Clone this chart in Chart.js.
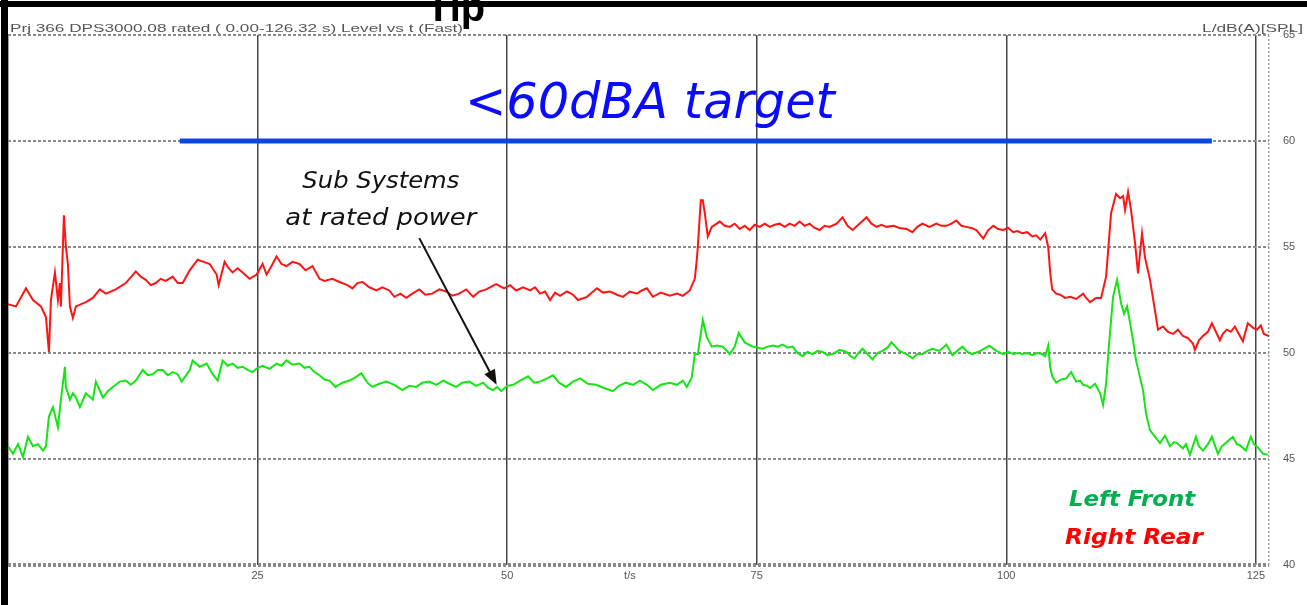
<!DOCTYPE html>
<html>
<head>
<meta charset="utf-8">
<script src="https://cdn.jsdelivr.net/npm/chart.js@4.4.1/dist/chart.umd.min.js"></script>
<style>
  html, body { margin: 0; padding: 0; background: #fff; }
  #wrap { width: 1307px; height: 605px; position: relative; }
</style>
</head>
<body>
<div id="wrap"><canvas id="grafico"></canvas></div>
<script>
// ── Dados ───────────────────────────────────
const tMax = 126.32;
const xTicks = [25, 50, 75, 100, 125];
const yTicks = [40, 45, 50, 55, 60, 65];

// Right Rear (vermelho)
const redTime = [
  0, 0.8, 1.8, 2.5, 3.3, 3.8, 4.1, 4.3, 4.7, 5.0,
  5.2, 5.3, 5.6, 5.8, 6.0, 6.2, 6.5, 6.8, 7.8, 8.5,
  9.2, 9.8, 10.8, 11.8, 12.8, 13.3, 13.8, 14.3, 14.8, 15.3,
  15.8, 16.5, 17.0, 17.5, 18.2, 19.0, 19.6, 20.2, 20.9, 21.1,
  21.7, 22.1, 22.5, 23.0, 23.5, 24.2, 24.9, 25.5, 25.9, 26.4,
  26.9, 27.4, 27.9, 28.5, 29.2, 29.8, 30.5, 31.2, 31.7, 32.5,
  33.2, 34.0, 34.5, 35.0, 35.5, 36.2, 36.9, 37.5, 38.2, 38.7,
  39.3, 39.9, 40.5, 41.2, 41.8, 42.5, 43.2, 43.9, 44.5, 45.2,
  45.9, 46.6, 47.2, 47.9, 48.9, 49.7, 50.3, 50.9, 51.6, 52.3,
  52.8, 53.3, 53.8, 54.3, 54.8, 55.3, 56.0, 56.6, 57.1, 58.0,
  58.5, 59.0, 59.6, 60.3, 61.0, 61.6, 62.3, 63.0, 63.5, 64.0,
  64.6, 65.4, 66.3, 67.0, 67.6, 68.3, 68.8, 69.0, 69.1, 69.4,
  69.6, 69.8, 70.1, 70.5, 71.3, 71.8, 72.3, 72.8, 73.3, 73.8,
  74.3, 74.8, 75.3, 75.8, 76.3, 76.8, 77.3, 77.8, 78.3, 78.8,
  79.3, 79.8, 80.3, 80.8, 81.3, 81.8, 82.3, 83.0, 83.6, 84.1,
  84.6, 85.3, 86.0, 86.5, 87.0, 87.5, 88.0, 88.7, 89.3, 90.0,
  90.6, 91.1, 91.6, 92.3, 93.0, 93.5, 94.0, 94.5, 95.0, 95.5,
  96.0, 96.5, 97.0, 97.7, 98.2, 98.7, 99.2, 99.7, 100.2, 100.7,
  101.1, 101.6, 102.1, 102.6, 103.0, 103.4, 103.9, 104.2, 104.4, 104.6,
  105.0, 105.4, 105.9, 106.4, 107.0, 107.7, 108.0, 108.4, 109.0, 109.5,
  110.0, 110.5, 111.0, 111.4, 111.7, 111.9, 112.2, 112.5, 112.9, 113.2,
  113.6, 113.9, 114.4, 114.9, 115.2, 115.7, 116.2, 116.7, 117.2, 117.7,
  118.2, 118.7, 118.9, 119.3, 119.7, 120.2, 120.6, 121.0, 121.4, 121.7,
  122.1, 122.5, 122.9, 123.3, 123.7, 124.2, 124.7, 125.1, 125.5, 125.8,
  126.3
];
const redLevel = [
  52.3, 52.2, 53.05, 52.5, 52.2, 51.7, 50.05, 52.5, 53.8, 52.5,
  53.3, 52.2, 56.5, 55.0, 54.2, 52.2, 51.65, 52.2, 52.4, 52.6,
  53.0, 52.8, 53.0, 53.3, 53.85, 53.6, 53.45, 53.2, 53.3, 53.5,
  53.4, 53.6, 53.3, 53.3, 53.9, 54.4, 54.3, 54.2, 53.7, 53.2,
  54.3, 54.0, 53.8, 54.0, 53.8, 53.5, 53.7, 54.2, 53.7, 54.1,
  54.55, 54.2, 54.1, 54.3, 54.2, 53.9, 54.1, 53.5, 53.4, 53.5,
  53.35, 53.2, 53.05, 53.3, 53.35, 53.1, 52.95, 53.1, 52.95, 52.65,
  52.8, 52.6, 52.8, 53.0, 52.75, 52.8, 53.0, 52.9, 52.7, 52.8,
  53.0, 52.65, 52.9, 53.0, 53.25, 53.05, 53.2, 52.95, 53.1, 52.95,
  53.1, 52.8, 52.9, 52.5, 52.85, 52.7, 52.9, 52.75, 52.5, 52.65,
  52.85, 53.05, 52.85, 52.9, 52.75, 52.65, 52.9, 52.8, 52.95, 53.05,
  52.65, 52.85, 52.7, 52.8, 52.7, 52.95, 53.5, 54.4, 55.0, 57.2,
  57.2, 56.6, 55.5, 55.95, 56.2, 56.0, 55.95, 56.1, 55.85, 56.0,
  55.8, 56.05, 55.95, 56.1, 55.95, 56.05, 56.1, 55.95, 56.1, 56.0,
  56.2, 56.0, 56.1, 55.9, 55.8, 56.0, 55.95, 56.1, 56.4, 56.0,
  55.8, 56.1, 56.4, 56.1, 55.95, 56.05, 55.95, 56.0, 55.9, 55.85,
  55.7, 55.95, 56.1, 55.95, 56.1, 56.0, 56.0, 56.1, 56.25, 56.0,
  55.95, 55.9, 55.8, 55.4, 55.8, 56.0, 55.85, 55.8, 55.9, 55.7,
  55.75, 55.65, 55.7, 55.5, 55.55, 55.35, 55.65, 55.0, 53.8, 53.0,
  52.8, 52.75, 52.6, 52.65, 52.55, 52.8, 52.6, 52.4, 52.6, 52.6,
  53.6, 56.6, 57.5, 57.3, 57.4, 56.75, 57.6, 56.75, 55.2, 53.75,
  55.65, 54.5, 53.45, 52.0, 51.1, 51.25, 51.0, 50.9, 51.1, 50.8,
  50.7, 50.45, 50.15, 50.6, 50.8, 51.0, 51.4, 51.0, 50.6, 50.9,
  51.1, 51.0, 51.25, 50.9, 50.55, 51.4, 51.2, 51.1, 51.3, 50.9,
  50.8
];

// Left Front (verde)
const greenTime = [
  0, 0.5, 1.0, 1.5, 2.0, 2.5, 3.0, 3.5, 3.8, 4.1,
  4.5, 5.0, 5.3, 5.7, 5.8, 6.2, 6.5, 6.8, 7.2, 7.8,
  8.5, 8.8, 9.5, 10.0, 10.5, 11.2, 11.8, 12.3, 12.8, 13.5,
  14.0, 14.5, 15.0, 15.5, 16.0, 16.5, 17.0, 17.4, 18.2, 18.5,
  19.2, 19.9, 20.5, 21.0, 21.5, 22.0, 22.5, 23.0, 23.5, 24.0,
  24.5, 25.0, 25.5, 26.2, 26.9, 27.4, 27.9, 28.5, 29.2, 29.7,
  30.2, 30.7, 31.2, 31.7, 32.2, 32.8, 33.5, 34.2, 34.8, 35.4,
  36.0, 36.5, 37.2, 37.9, 38.7, 39.5, 40.2, 40.9, 41.5, 42.2,
  42.9, 43.6, 44.2, 44.9, 45.5, 46.2, 46.9, 47.6, 48.1, 48.6,
  49.0, 49.4, 50.0, 50.6, 51.3, 52.1, 52.7, 53.3, 54.0, 54.6,
  55.2, 55.9, 56.6, 57.3, 58.1, 58.9, 59.7, 60.6, 61.2, 61.9,
  62.6, 63.3, 64.0, 64.6, 65.4, 66.3, 67.0, 67.6, 68.0, 68.5,
  68.8, 69.1, 69.6, 70.0, 70.5, 71.0, 71.6, 72.3, 72.8, 73.2,
  73.8, 74.2, 74.6, 75.1, 75.6, 76.1, 76.6, 77.1, 77.6, 78.1,
  78.6, 79.1, 79.6, 80.1, 80.6, 81.1, 81.6, 82.1, 82.6, 83.3,
  84.0, 84.4, 84.8, 85.2, 85.6, 86.1, 86.6, 87.1, 87.6, 88.1,
  88.5, 88.9, 89.3, 90.0, 90.6, 91.1, 91.6, 92.1, 92.6, 93.3,
  94.0, 94.6, 95.1, 95.6, 96.1, 96.6, 97.4, 98.3, 99.0, 99.7,
  100.2, 100.7, 101.2, 101.6, 102.1, 102.6, 103.1, 103.6, 103.9, 104.2,
  104.4, 104.6, 105.0, 105.5, 106.0, 106.5, 107.0, 107.4, 107.7, 108.1,
  108.4, 108.9, 109.4, 109.7, 110.0, 110.3, 110.7, 111.1, 111.5, 111.8,
  112.1, 112.3, 112.7, 113.0, 113.3, 113.7, 114.0, 114.4, 114.9, 115.4,
  115.9, 116.4, 116.8, 117.1, 117.7, 118.0, 118.4, 119.0, 119.3, 119.7,
  120.2, 120.6, 121.2, 121.6, 122.1, 122.7, 123.1, 123.4, 124.0, 124.5,
  124.8, 125.2, 125.7, 126.2
];
const greenLevel = [
  45.6, 45.25, 45.7, 45.1, 46.05, 45.6, 45.7, 45.4, 45.6, 47.0,
  47.45, 46.5, 47.8, 49.35, 48.4, 47.8, 48.1, 47.9, 47.45, 48.1,
  47.8, 48.65, 47.9, 48.2, 48.4, 48.65, 48.7, 48.5, 48.7, 49.2,
  48.95, 49.0, 49.2, 49.2, 48.95, 49.1, 49.0, 48.65, 49.2, 49.65,
  49.35, 49.5, 49.0, 48.7, 49.65, 49.4, 49.5, 49.3, 49.35, 49.2,
  49.1, 49.3, 49.4, 49.25, 49.5, 49.4, 49.65, 49.45, 49.5, 49.3,
  49.35, 49.1, 48.95, 48.75, 48.7, 48.4, 48.6, 48.7, 48.85, 49.05,
  48.6, 48.4, 48.55, 48.65, 48.5, 48.25, 48.45, 48.4, 48.6, 48.65,
  48.5, 48.7, 48.55, 48.4, 48.6, 48.65, 48.45, 48.6, 48.35, 48.25,
  48.4, 48.2, 48.45, 48.5, 48.7, 48.9, 48.6, 48.65, 48.8, 48.95,
  48.6, 48.4, 48.65, 48.8, 48.55, 48.5, 48.35, 48.2, 48.45, 48.6,
  48.5, 48.7, 48.5, 48.25, 48.5, 48.6, 48.5, 48.7, 48.4, 48.85,
  49.95, 49.95, 51.55, 50.75, 50.3, 50.35, 50.3, 49.95, 50.3, 50.95,
  50.5, 50.4, 50.3, 50.25, 50.2, 50.3, 50.35, 50.3, 50.4, 50.25,
  50.3, 50.0, 49.85, 50.05, 49.95, 50.1, 50.05, 49.9, 49.95, 50.15,
  50.05, 49.85, 49.75, 50.0, 50.2, 49.95, 49.7, 50.0, 50.1, 50.25,
  50.5, 50.3, 50.1, 49.95, 49.75, 49.95, 49.95, 50.1, 50.2, 50.1,
  50.4, 49.9, 50.1, 50.3, 50.05, 49.95, 50.1, 50.35, 50.1, 49.95,
  50.05, 49.95, 50.0, 49.95, 50.0, 49.9, 50.0, 49.95, 49.85, 50.35,
  49.35, 48.9, 48.6, 48.75, 48.8, 49.1, 48.65, 48.7, 48.5, 48.45,
  48.35, 48.55, 48.1, 47.55, 48.55, 50.45, 52.65, 53.45, 52.35, 51.85,
  52.2, 51.7, 50.6, 49.65, 49.05, 48.25, 47.15, 46.35, 46.05, 45.75,
  46.1, 45.6, 45.8, 45.75, 45.5, 45.7, 45.2, 46.05, 45.6, 45.4,
  45.7, 46.05, 45.25, 45.6, 45.8, 46.05, 45.7, 45.65, 45.4, 46.05,
  45.7, 45.55, 45.25, 45.2
];

// linha azul da meta
const targetFrom = 17.2;
const targetTo = 120.6;
const targetLevel = 60;

const toPoints = (ts, vs) => ts.map((t, i) => ({ x: t, y: vs[i] }));

// ── Textos sobre o gráfico ──────────────────
function drawFit(ctx, text, left, base, width, font, color) {
  ctx.save();
  ctx.font = font;
  ctx.fillStyle = color;
  ctx.textAlign = 'left';
  ctx.textBaseline = 'alphabetic';
  const w = ctx.measureText(text).width;
  ctx.translate(left, base);
  ctx.scale(width / w, 1);
  ctx.fillText(text, 0, 0);
  ctx.restore();
}

const overlay = {
  id: 'overlay',
  afterDraw(chart) {
    const { ctx } = chart;
    const x = chart.scales.x, y = chart.scales.y;
    const px = v => x.getPixelForValue(v);
    const py = v => y.getPixelForValue(v);

    // cabeçalho
    drawFit(ctx, 'Prj 366 DPS3000.08 rated ( 0.00-126.32 s) Level vs t (Fast)', 10, 32, 453, '11px "Liberation Sans"', '#555');
    drawFit(ctx, 'L/dB(A)[SPL]', 1202, 32, 101, '11px "Liberation Sans"', '#555');

    // texto cortado no topo
    ctx.save();
    ctx.font = 'bold 40px "Liberation Sans"';
    ctx.fillStyle = '#000';
    ctx.fillText('Tip', 426, 21);
    ctx.restore();

    // título azul
    drawFit(ctx, '<60dBA target', px(64.3) - 185, py(61.08), 370, 'italic 50px "DejaVu Sans"', '#0a0aff');

    // anotação
    drawFit(ctx, 'Sub Systems', px(37.3) - 78, py(57.8), 157, 'italic 23px "DejaVu Sans"', '#111');
    drawFit(ctx, 'at rated power', px(37.3) - 95, py(56.04), 191, 'italic 23px "DejaVu Sans"', '#111');

    const x1 = px(41.2), y1 = py(55.42), x2 = px(48.95), y2 = py(48.5);
    const ang = Math.atan2(y2 - y1, x2 - x1);
    ctx.save();
    ctx.strokeStyle = '#111';
    ctx.fillStyle = '#111';
    ctx.lineWidth = 2;
    ctx.beginPath();
    ctx.moveTo(x1, y1);
    ctx.lineTo(x2 - 10 * Math.cos(ang), y2 - 10 * Math.sin(ang));
    ctx.stroke();
    ctx.beginPath();
    ctx.moveTo(x2, y2);
    ctx.lineTo(x2 - 15 * Math.cos(ang) + 6 * Math.sin(ang), y2 - 15 * Math.sin(ang) - 6 * Math.cos(ang));
    ctx.lineTo(x2 - 15 * Math.cos(ang) - 6 * Math.sin(ang), y2 - 15 * Math.sin(ang) + 6 * Math.cos(ang));
    ctx.closePath();
    ctx.fill();
    ctx.restore();

    // legenda
    drawFit(ctx, 'Left Front', px(112.6) - 63, py(42.8), 126, 'italic bold 22px "DejaVu Sans"', '#00b050');
    drawFit(ctx, 'Right Rear', px(112.8) - 69, py(41.0), 138, 'italic bold 22px "DejaVu Sans"', '#ff0000');

    // rótulo do eixo x
    ctx.save();
    ctx.font = '11px "Liberation Sans"';
    ctx.fillStyle = '#555';
    ctx.textAlign = 'center';
    ctx.textBaseline = 'top';
    ctx.fillText('t/s', px(62.3), chart.chartArea.bottom + 5);
    ctx.restore();

    // moldura preta
    ctx.save();
    ctx.fillStyle = '#000';
    ctx.fillRect(0, 1, chart.width, 6);
    ctx.fillRect(1, 0, 7, chart.height);
    ctx.restore();
  }
};

new Chart(document.getElementById('grafico').getContext('2d'), {
  type: 'line',
  data: {
    datasets: [
      {
        label: 'Right Rear',
        data: toPoints(redTime, redLevel),
        borderColor: '#ff1414',
        borderWidth: 2,
        pointRadius: 0,
        tension: 0
      },
      {
        label: 'Left Front',
        data: toPoints(greenTime, greenLevel),
        borderColor: '#14e614',
        borderWidth: 2,
        pointRadius: 0,
        tension: 0
      },
      {
        label: 'target',
        data: [{ x: targetFrom, y: targetLevel }, { x: targetTo, y: targetLevel }],
        borderColor: '#0a46e0',
        borderWidth: 5,
        pointRadius: 0
      }
    ]
  },
  options: {
    responsive: true,
    maintainAspectRatio: false,
    animation: false,
    layout: { padding: { left: 8, top: 35, right: 0, bottom: 0 } },
    plugins: { legend: { display: false }, tooltip: { enabled: false }, title: { display: false } },
    scales: {
      x: {
        type: 'linear',
        min: 0,
        max: tMax,
        afterBuildTicks: s => { s.ticks = [0, ...xTicks, tMax].map(v => ({ value: v })); },
        afterFit: s => { s.height = 40; },
        border: {
          display: false,
          dash: c => (c.tick && c.tick.value > 126) ? [2, 2] : []
        },
        grid: {
          drawTicks: false,
          color: c => (c.tick && c.tick.value > 126) ? '#999' : '#444',
          lineWidth: 1.5
        },
        ticks: {
          autoSkip: false,
          maxRotation: 0,
          padding: 4,
          color: '#555',
          font: { size: 11, family: 'Liberation Sans' },
          callback: v => xTicks.includes(v) ? String(v) : ''
        }
      },
      y: {
        position: 'right',
        min: 40,
        max: 65,
        afterBuildTicks: s => { s.ticks = yTicks.map(v => ({ value: v })); },
        afterFit: s => { s.width = 38; },
        border: { display: false, dash: [3, 2] },
        grid: {
          drawTicks: false,
          color: '#8a8a8a',
          lineWidth: c => (c.tick && c.tick.value === 40) ? 4 : 2
        },
        ticks: {
          padding: 14,
          color: '#555',
          font: { size: 11, family: 'Liberation Sans' }
        }
      }
    }
  },
  plugins: [overlay]
});
</script>
</body>
</html>
